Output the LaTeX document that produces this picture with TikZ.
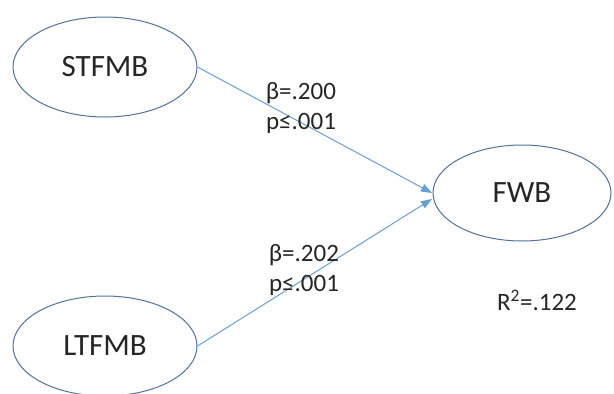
\documentclass[tikz,border=0pt]{standalone}
\usepackage{fontspec}
\setmainfont{Carlito}
\usetikzlibrary{shapes.geometric,arrows.meta}
\definecolor{edgeblue}{HTML}{51739A}
\definecolor{pathblue}{HTML}{6A9FD3}
\definecolor{txt}{HTML}{262626}
\tikzset{
  construct/.style={ellipse, draw=edgeblue, line width=1pt, fill=white,
    inner sep=0pt, text=txt, font=\fontsize{31}{31}\selectfont},
  path/.style={draw=pathblue, line width=1pt,
    -{Triangle[length=11pt,width=8pt]}},
  coef/.style={text=txt, font=\fontsize{25}{25}\selectfont, align=center, inner sep=0pt}
}
\begin{document}
\begin{tikzpicture}[x=1pt,y=-1pt]
\useasboundingbox (0,0) rectangle (614,394);
\fill[white] (0,0) rectangle (614,394);
% latent constructs
\node[construct, minimum width=184pt, minimum height=100pt] (st) at (105,67) {STFMB};
\node[construct, minimum width=184pt, minimum height=100pt] (lt) at (105,346) {LTFMB};
\node[construct, minimum width=178pt, minimum height=96pt] (fwb) at (522,193) {FWB};
% structural paths into FWB
\coordinate (tipA) at (432,193);
\coordinate (tipB) at (432,199);
\draw[path] (st.east) -- (tipA);
\draw[path] (lt.east) -- (tipB);
% path coefficients
\node[coef] (c1) at (301,93) {β=.200};
\node[coef] (p1) at (301,123) {p≤.001};
\node[coef] (c2) at (304,255) {β=.202};
\node[coef] (p2) at (304,285) {p≤.001};
\node[coef] (r2) at (537,300) {R\textsuperscript{2}=.122};
\end{tikzpicture}
\end{document}
